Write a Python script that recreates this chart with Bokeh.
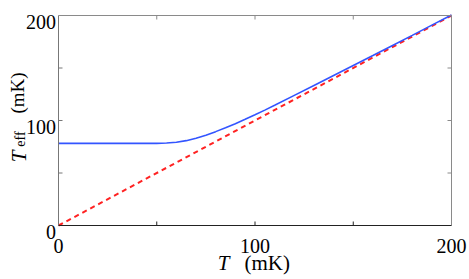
import math
from bokeh.plotting import figure
from bokeh.models import Range1d
from bokeh.core.properties import value
from bokeh.embed import file_html
from bokeh.resources import INLINE

# ---- data ----
T_blue = [0, 10, 20, 30, 40, 45, 50, 55, 60, 65, 70, 75, 80, 85, 90, 95, 100,
          105, 110, 120, 130, 140, 150, 160, 170, 180, 190, 200]
Teff_blue = [78.2, 78.2, 78.2, 78.2, 78.2, 78.2, 78.25, 78.5, 79.3, 80.8, 83.1,
             86.0, 89.4, 93.1, 97.0, 101.1, 105.4, 109.9, 114.5, 123.9, 133.4,
             142.9, 152.4, 161.9, 171.5, 181.1, 190.8, 200.5]
T_red = [0, 200]
Teff_red = [0, 200]
x_ticks = [0, 50, 100, 150, 200]
y_ticks = [0, 50, 100, 150, 200]
x_tick_labels = ["0", "", "100", "", "200"]
y_tick_labels = ["0", "", "100", "", "200"]
x_label_var = "T"
x_label_unit = "(mK)"
y_label_var = "T"
y_label_sub = "eff"
y_label_unit = "(mK)"

# ---- layout (pixels) ----
W, H = 469, 279
FL, FR, FT, FB = 58, 451, 15, 225          # data box edges in canvas pixels
XMIN, XMAX = x_ticks[0], x_ticks[-1]
YMIN, YMAX = y_ticks[0], y_ticks[-1]
kx = (FR - FL) / (XMAX - XMIN)
ky = (FB - FT) / (YMAX - YMIN)


def px2x(px):
    return XMIN + (px - FL) / kx


def py2y(py):
    return YMIN + (FB - py) / ky


FONT = "Liberation Serif"

p = figure(width=W, height=H, output_backend="svg", toolbar_location=None,
           x_range=Range1d(px2x(0), px2x(W)), y_range=Range1d(py2y(H), py2y(0)),
           min_border=0, min_border_left=0, min_border_right=0,
           min_border_top=0, min_border_bottom=0,
           x_axis_location=None, y_axis_location=None)
p.xgrid.visible = False
p.ygrid.visible = False
p.outline_line_color = None
p.background_fill_color = "white"
p.border_fill_color = "white"

# curves
p.line(T_red, Teff_red, line_color="#ff2222", line_width=2, line_dash="5 4")
p.line(T_blue, Teff_blue, line_color="#3355ff", line_width=1.6)

# box (axes lines)
p.segment(x0=[XMIN], y0=[YMAX], x1=[XMAX], y1=[YMAX], line_color="#8a8a8a", line_width=1)
p.segment(x0=[XMAX], y0=[YMIN], x1=[XMAX], y1=[YMAX], line_color="#8a8a8a", line_width=1)
p.segment(x0=[XMIN], y0=[YMIN], x1=[XMIN], y1=[YMAX], line_color="#777777", line_width=1)
p.segment(x0=[XMIN], y0=[YMIN], x1=[XMAX], y1=[YMIN], line_color="#222222", line_width=1.2)

# inward ticks on all four sides
TL = 4
inner_x = [t for t in x_ticks if XMIN < t < XMAX]
inner_y = [t for t in y_ticks if YMIN < t < YMAX]
p.segment(x0=inner_x, y0=[YMIN] * len(inner_x), x1=inner_x,
          y1=[YMIN + TL / ky] * len(inner_x), line_color="#222222", line_width=1)
p.segment(x0=inner_x, y0=[YMAX] * len(inner_x), x1=inner_x,
          y1=[YMAX - TL / ky] * len(inner_x), line_color="#8a8a8a", line_width=1)
p.segment(x0=[XMIN] * len(inner_y), y0=inner_y, x1=[XMIN + TL / kx] * len(inner_y),
          y1=inner_y, line_color="#777777", line_width=1)
p.segment(x0=[XMAX] * len(inner_y), y0=inner_y, x1=[XMAX - TL / kx] * len(inner_y),
          y1=inner_y, line_color="#8a8a8a", line_width=1)

# tick labels
p.text(x=x_ticks, y=[YMIN] * len(x_ticks), text=x_tick_labels,
       text_font=value(FONT), text_font_size="20px", text_color="black",
       text_align="center", text_baseline="alphabetic", y_offset=20)
p.text(x=[XMIN] * len(y_ticks), y=y_ticks, text=y_tick_labels,
       text_font=value(FONT), text_font_size="20px", text_color="black",
       text_align="right", text_baseline="alphabetic", x_offset=-2.5, y_offset=6.8)

# x axis label
p.text(x=[px2x(223)], y=[py2y(262.3)], text=[x_label_var], text_font=value(FONT),
       text_font_style="italic", text_font_size="21px", text_color="black",
       text_align="center", text_baseline="alphabetic")
p.text(x=[px2x(266.7)], y=[py2y(262.3)], text=[x_label_unit], text_font=value(FONT),
       text_font_size="21px", text_color="black",
       text_align="center", text_baseline="alphabetic")

# y axis label (rotated)
ang = math.pi / 2
p.text(x=[px2x(18)], y=[py2y(156)], text=[y_label_var], angle=ang,
       text_font=value(FONT), text_font_style="italic", text_font_size="21px",
       text_color="black", text_align="center", text_baseline="alphabetic")
p.text(x=[px2x(20)], y=[py2y(138.5)], text=[y_label_sub], angle=ang,
       text_font=value(FONT), text_font_size="14px",
       text_color="black", text_align="center", text_baseline="alphabetic")
p.text(x=[px2x(17)], y=[py2y(92.5)], text=[y_label_unit], angle=ang,
       text_font=value(FONT), text_font_size="19px",
       text_color="black", text_align="center", text_baseline="alphabetic")

open("out.html", "w").write(file_html(p, INLINE))
